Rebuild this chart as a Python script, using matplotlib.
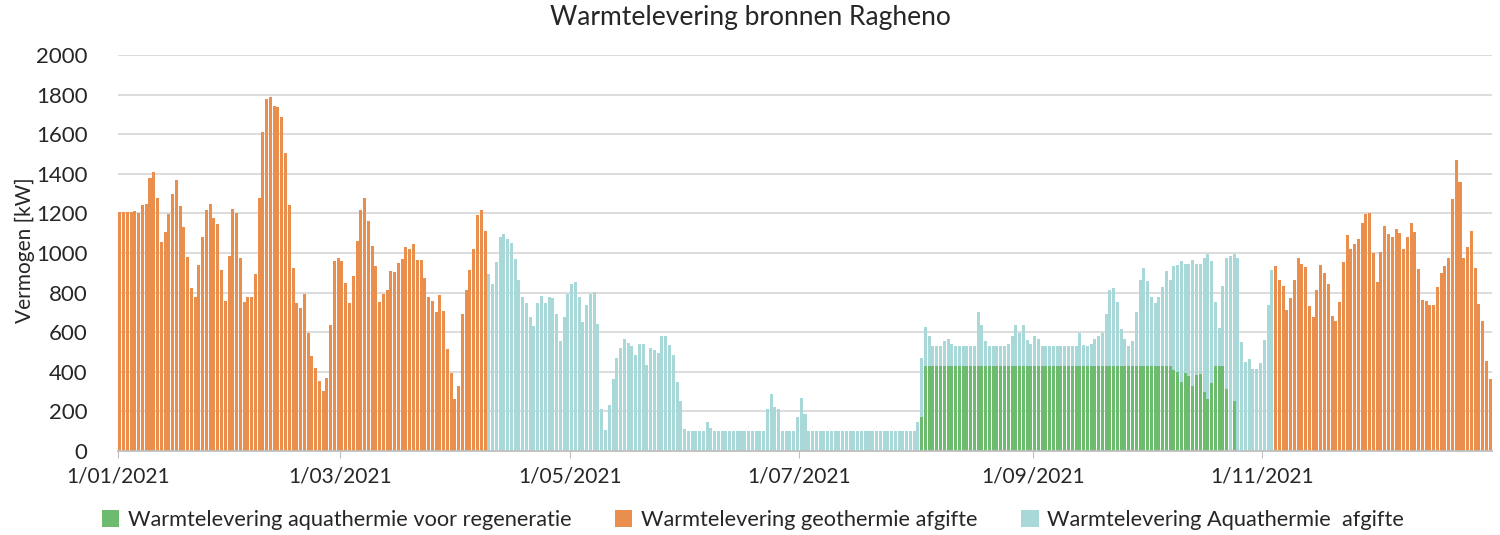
import numpy as np
import pandas as pd
import matplotlib
matplotlib.use("Agg")
import matplotlib.pyplot as plt
import matplotlib.dates as mdates
from matplotlib.patches import Patch

plt.rcParams['font.family'] = ['Lato', 'DejaVu Sans']

title = "Warmtelevering bronnen Ragheno"
ylabel = "Vermogen [kW]"
series_names = ["Warmtelevering aquathermie voor regeneratie",
                "Warmtelevering geothermie afgifte",
                "Warmtelevering Aquathermie  afgifte"]
tick_dates = ["2021-01-01", "2021-03-01", "2021-05-01", "2021-07-01", "2021-09-01", "2021-11-01"]
y_ticks = [0, 200, 400, 600, 800, 1000, 1200, 1400, 1600, 1800, 2000]

# Geothermie afgifte, winter part 1 (daily, from 1 Jan)
geo1_start = "2021-01-01"
geo1_values = [1205, 1205, 1205, 1205, 1210, 1200, 1240, 1250, 1380, 1410,
               1280, 1055, 1105, 1195, 1300, 1370, 1235, 1130, 980, 825,
               780, 940, 1080, 1215, 1245, 1175, 1145, 915, 760, 985,
               1220, 1200, 975, 755, 780, 780, 895, 1280, 1610, 1780,
               1790, 1740, 1735, 1685, 1505, 1240, 925, 745, 720, 795,
               595, 480, 420, 355, 305, 370, 635, 960, 975, 960,
               850, 745, 885, 1060, 1215, 1280, 1160, 1035, 935, 755,
               795, 815, 910, 905, 950, 970, 1030, 1020, 1045, 965,
               965, 875, 780, 760, 700, 790, 705, 515, 395, 265,
               330, 690, 815, 915, 1020, 1190, 1215, 1110]

# Aquathermie afgifte (daily, from 9 Apr) - stacked on top of regeneratie
aqua_start = "2021-04-09"
aqua_values = [895, 845, 955, 1080, 1095, 1070, 1050, 970, 865, 780,
               750, 675, 630, 750, 785, 745, 780, 775, 690, 555,
               675, 795, 845, 855, 780, 650, 735, 795, 805, 640,
               210, 105, 230, 365, 470, 520, 565, 545, 530, 485,
               540, 540, 435, 520, 510, 495, 580, 580, 535, 485,
               350, 255, 110, 100, 100, 100, 100, 100, 145, 115,
               100, 100, 100, 100, 100, 100, 100, 100, 100, 100,
               100, 100, 100, 100, 210, 290, 220, 210, 100, 100,
               100, 100, 170, 270, 185, 100, 100, 100, 100, 100,
               100, 100, 100, 100, 100, 100, 100, 100, 100, 100,
               100, 100, 100, 100, 100, 100, 100, 100, 100, 100,
               100, 100, 100, 100, 145, 300, 195, 150, 100, 100,
               100, 125, 135, 110, 100, 100, 100, 100, 100, 100,
               270, 205, 125, 100, 100, 100, 100, 100, 110, 150,
               205, 165, 205, 130, 110, 150, 135, 100, 100, 100,
               100, 100, 100, 100, 100, 100, 100, 165, 105, 100,
               110, 135, 150, 165, 260, 385, 395, 325, 185, 135,
               100, 125, 270, 435, 495, 430, 350, 320, 350, 400,
               480, 435, 525, 540, 610, 550, 565, 635, 560, 555,
               675, 730, 615, 325, 190, 405, 660, 985, 740, 974,
               550, 450, 465, 415, 415, 445, 560, 735, 915]

# Aquathermie voor regeneratie (daily, from 2 Aug)
regen_start = "2021-08-02"
regen_values = [170] + [430] * 66 + [410, 400, 350, 395, 380, 330, 385, 390,
                                     300, 265, 345, 430, 430, 430, 315, 0, 255]

# Geothermie afgifte, winter part 2 (daily, from 4 Nov)
geo2_start = "2021-11-04"
geo2_values = [935, 865, 835, 710, 775, 865, 975, 945, 930, 730,
               675, 815, 940, 900, 845, 680, 655, 755, 955, 1090,
               1020, 1045, 1070, 1150, 1195, 1200, 1000, 855, 1005, 1135,
               1095, 1080, 1120, 1100, 1020, 1080, 1150, 1105, 920, 765,
               760, 735, 735, 830, 900, 935, 975, 1275, 1470, 1360,
               975, 1030, 1110, 925, 740, 655, 455, 365]

c_green = "#6DBB6E"
c_orange = "#E98E4C"
c_blue = "#A8D8D7"

days = pd.date_range("2021-01-01", "2021-12-31", freq="D")
df = pd.DataFrame(0.0, index=days, columns=["regen", "geo", "aqua"])
def put(col, start, vals):
    idx = pd.date_range(start, periods=len(vals), freq="D")
    df.loc[idx, col] = vals
put("geo", geo1_start, geo1_values)
put("geo", geo2_start, geo2_values)
put("aqua", aqua_start, aqua_values)
put("regen", regen_start, regen_values)

x = mdates.date2num(df.index.to_pydatetime()) + 0.5
w = 0.8

fig = plt.figure(figsize=(15, 5.35), dpi=100)
ax = fig.add_axes([118/1500, 1 - 451/535, (1492-118)/1500, (451-55)/535])

ax.bar(x, df["regen"], width=w, color=c_green, linewidth=0)
ax.bar(x, df["geo"], width=w, bottom=df["regen"], color=c_orange, linewidth=0)
ax.bar(x, df["aqua"], width=w, bottom=df["regen"] + df["geo"], color=c_blue, linewidth=0)

ax.set_xlim(mdates.date2num(pd.Timestamp("2021-01-01")), mdates.date2num(pd.Timestamp("2022-01-01")))
ax.set_ylim(0, 2000)
ax.set_yticks(y_ticks)
ax.set_yticklabels([str(v) for v in y_ticks])
tds = [pd.Timestamp(d) for d in tick_dates]
ax.set_xticks(mdates.date2num(tds))
ax.set_xticklabels([f"{d.day}/{d.month:02d}/{d.year}" for d in tds])

ax.yaxis.grid(True, color="#D9D9D9", linewidth=1.3)
ax.set_axisbelow(True)
for s in ["left", "right", "top"]:
    ax.spines[s].set_visible(False)
ax.spines["bottom"].set_color("#BFBFBF")
ax.spines["bottom"].set_linewidth(1.3)
ax.tick_params(axis="y", length=0, pad=22, labelsize=16, labelcolor="#262626")
ax.tick_params(axis="x", length=5, color="#BFBFBF", pad=6, labelsize=15, labelcolor="#262626")

fig.text(0.5, 1 - 18/535, title, ha="center", va="center", fontsize=19, color="#262626")
fig.text(25/1500, 1 - 250/535, ylabel, ha="center", va="center", rotation=90, fontsize=15, color="#262626")

handles = [Patch(facecolor=c_green), Patch(facecolor=c_orange), Patch(facecolor=c_blue)]
fig.legend(handles, series_names, loc="center", bbox_to_anchor=(0.502, 1 - 520/535), ncol=3,
           frameon=False, fontsize=15.7, handlelength=0.8, handleheight=0.8, handletextpad=0.4,
           columnspacing=2.0, labelcolor="#262626")

fig.savefig("out.png", dpi=100)
